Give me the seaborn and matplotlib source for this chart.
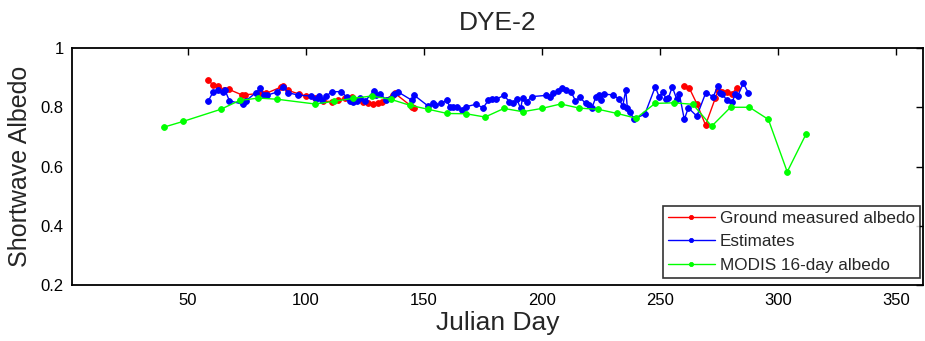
import numpy as np
import pandas as pd
import matplotlib
matplotlib.use("Agg")
import matplotlib.pyplot as plt
import seaborn as sns

# Ground measured albedo (two separate measurement periods)
ground_day = [58.7, 60.7, 63.0, 65.4, 67.6, 72.9, 74.3, 81.0, 83.3, 89.5, 90.3, 92.6,
              97.0, 100.0, 104.1, 107.2, 111.0, 113.8, 116.8, 119.8, 124.4, 126.5,
              128.6, 130.8, 132.2, 137.1, 137.8, 145.0, 145.9,
              260.4, 262.5, 265.7, 269.4, 273.5, 274.8, 276.5, 278.4, 280.5, 282.6]
ground_albedo = [0.891, 0.876, 0.872, 0.859, 0.860, 0.842, 0.842, 0.847, 0.847, 0.868, 0.872, 0.857,
                 0.845, 0.838, 0.830, 0.821, 0.819, 0.824, 0.830, 0.834, 0.819, 0.813,
                 0.810, 0.813, 0.819, 0.843, 0.847, 0.802, 0.798,
                 0.873, 0.865, 0.812, 0.740, 0.830, 0.858, 0.852, 0.851, 0.846, 0.864]
ground_segment = [0] * 29 + [1] * 10

# Estimated albedo
est_day = [58.7, 60.7, 63.0, 65.1, 65.8, 67.7, 73.4, 74.7, 78.9, 80.8, 82.2, 83.7,
           87.8, 90.6, 92.6, 96.9, 102.1, 104.3, 105.8, 106.8, 108.8, 111.0, 115.0,
           117.6, 118.8, 120.0, 121.8, 123.0, 125.1, 128.8, 130.0, 131.7, 134.0,
           137.3, 139.1, 144.9, 145.9, 151.9, 154.1, 154.8, 157.3, 159.7, 161.1,
           162.5, 164.2, 166.1, 167.9, 172.2, 175.2, 177.4, 178.8, 180.6, 184.0,
           186.3, 188.0, 189.4, 191.1, 191.9, 193.6, 195.8, 201.8, 203.5, 204.9,
           207.0, 208.5, 210.3, 212.4, 214.3, 216.2, 218.6, 220.2, 221.2, 223.0,
           224.4, 225.0, 226.5, 230.1, 232.9, 234.3, 235.6, 236.3, 237.3, 239.1,
           243.7, 248.1, 249.7, 251.5, 252.6, 253.6, 255.3, 257.2, 258.3, 260.4,
           262.1, 265.7, 269.5, 272.7, 274.6, 275.6, 276.5, 278.4, 280.8, 281.9,
           283.0, 285.4, 287.5]
est_albedo = [0.821, 0.850, 0.857, 0.850, 0.858, 0.822, 0.810, 0.822, 0.849, 0.864, 0.841, 0.841,
              0.851, 0.870, 0.849, 0.841, 0.838, 0.828, 0.837, 0.825, 0.838, 0.852, 0.853,
              0.833, 0.822, 0.817, 0.822, 0.830, 0.820, 0.854, 0.842, 0.845, 0.825,
              0.845, 0.852, 0.824, 0.841, 0.804, 0.813, 0.806, 0.813, 0.823, 0.802,
              0.802, 0.802, 0.790, 0.802, 0.810, 0.798, 0.824, 0.829, 0.827, 0.840,
              0.819, 0.813, 0.827, 0.796, 0.832, 0.819, 0.836, 0.840, 0.836, 0.847,
              0.856, 0.866, 0.858, 0.852, 0.822, 0.833, 0.813, 0.806, 0.796, 0.836,
              0.841, 0.824, 0.844, 0.842, 0.827, 0.803, 0.858, 0.796, 0.785, 0.760,
              0.777, 0.869, 0.836, 0.852, 0.827, 0.830, 0.869, 0.827, 0.844, 0.759,
              0.798, 0.770, 0.849, 0.836, 0.872, 0.847, 0.845, 0.824, 0.819, 0.844,
              0.838, 0.881, 0.849]

# MODIS 16-day albedo product
modis_day = [40, 48, 64, 72, 80, 88, 104, 112, 120, 128, 136, 144, 152, 160, 168, 176,
             184, 192, 200, 208, 216, 224, 232, 240, 248, 256, 264, 272, 280, 288, 296,
             304, 312]
modis_albedo = [0.733, 0.752, 0.793, 0.823, 0.831, 0.827, 0.811, 0.820, 0.830, 0.838,
                0.827, 0.807, 0.793, 0.779, 0.778, 0.767, 0.796, 0.785, 0.796, 0.811,
                0.797, 0.793, 0.779, 0.763, 0.813, 0.815, 0.810, 0.736, 0.800, 0.800,
                0.759, 0.582, 0.710]

x_ticks = [50, 100, 150, 200, 250, 300, 350]
y_ticks = [0.2, 0.4, 0.6, 0.8, 1.0]
y_tick_labels = ["0.2", "0.4", "0.6", "0.8", "1"]

sns.set_style("white")
plt.rcParams["font.family"] = ["Liberation Sans", "DejaVu Sans"]

fig = plt.figure(figsize=(9.25, 3.41), dpi=100)
ax = fig.add_axes([0.0778, 0.1642, 0.92, 0.6950])

ground = pd.DataFrame({"day": ground_day, "albedo": ground_albedo, "seg": ground_segment})
est = pd.DataFrame({"day": est_day, "albedo": est_albedo})
modis = pd.DataFrame({"day": modis_day, "albedo": modis_albedo})

line_kw = dict(marker="o", markersize=4.2, markeredgewidth=0.6, linewidth=1.0,
               estimator=None, sort=False, ax=ax)

sns.lineplot(data=ground, x="day", y="albedo", units="seg", color="#ff0000",
             markeredgecolor="#ff0000", label="Ground measured albedo", **line_kw)
sns.lineplot(data=est, x="day", y="albedo", color="#0000ff",
             markeredgecolor="#0000ff", label="Estimates", **line_kw)
sns.lineplot(data=modis, x="day", y="albedo", color="#00ff00",
             markeredgecolor="#00ff00", label="MODIS 16-day albedo", **line_kw)

ax.set_xlim(1, 361.5)
ax.set_ylim(0.2, 1.0)
ax.set_xticks(x_ticks)
ax.set_yticks(y_ticks)
ax.set_yticklabels(y_tick_labels)
ax.tick_params(direction="in", length=5, width=1.0, top=True, right=True,
               labelsize=12, colors="black", pad=6)
for s in ax.spines.values():
    s.set_visible(True)
    s.set_color("black")
    s.set_linewidth(1.3)

ax.set_title("DYE-2", fontsize=19, pad=13)
ax.set_xlabel("Julian Day", fontsize=19, labelpad=2)
ax.set_ylabel("Shortwave Albedo", fontsize=18, labelpad=6)

# one legend entry per series
handles, labels = ax.get_legend_handles_labels()
seen = {}
for h, l in zip(handles, labels):
    seen.setdefault(l, h)
leg = ax.legend(list(seen.values()), list(seen.keys()),
                loc="lower right", bbox_to_anchor=(0.9965, 0.0295), borderaxespad=0,
                fontsize=12.3, frameon=True, fancybox=False, handlelength=2.75,
                handletextpad=0.3, labelspacing=0.5, borderpad=0.3)
leg.get_frame().set_edgecolor("black")
leg.get_frame().set_linewidth(1.2)
for h in leg.legend_handles:
    h.set_markersize(3)

fig.savefig("out.png", dpi=100, facecolor="white")
